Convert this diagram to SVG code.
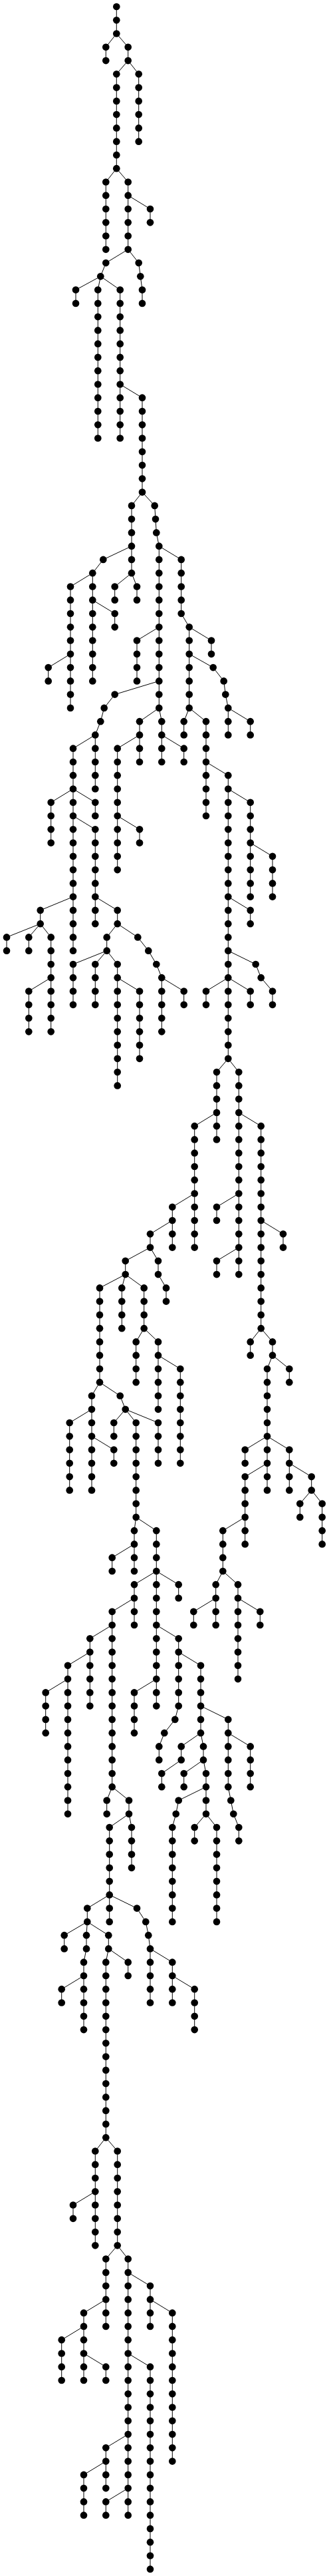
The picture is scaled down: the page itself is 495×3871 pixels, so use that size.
<svg xmlns="http://www.w3.org/2000/svg" width="495" height="3871" viewBox="0 0 495 3871">
<style>
circle{r:5.33px;fill:#000;stroke:none}
#connectors path{fill:none;stroke:#000;stroke-width:1}
</style>
<rect width="495" height="3871" fill="#fff"/>
<g id="connectors">
<path d="M175.3 10V50.5"/>
<path d="M175.3 50.5L159.3 70.8V91.1"/>
<path d="M175.3 50.5L192.7 70.8V91.1"/>
<path d="M192.7 91.1L175.3 111.3V253.2"/>
<path d="M192.7 91.1L208.7 111.3V212.7"/>
<path d="M175.3 253.2L159.3 273.5V374.8"/>
<path d="M175.3 253.2L192.7 273.5V374.8"/>
<path d="M192.7 293.7L226 314V334.3"/>
<path d="M192.7 374.8L159.3 395.1L151.3 415.3"/>
<path d="M192.7 374.8L208.7 395.1L211.3 415.3L214 435.6V455.9"/>
<path d="M151.3 415.3L114 435.6V455.9"/>
<path d="M151.3 415.3L147.3 435.6V658.5"/>
<path d="M151.3 415.3L180.7 435.6V658.5"/>
<path d="M180.7 577.5L214 597.7V739.6"/>
<path d="M214 739.6L198 759.9V861.2"/>
<path d="M198 820.7L155.3 840.9L139.3 861.2"/>
<path d="M198 861.2L172.7 881.5V901.7"/>
<path d="M198 861.2L206 881.5V901.7"/>
<path d="M139.3 861.2L106 881.5V1063.9"/>
<path d="M106 982.8L72.7 1003.1V1023.4"/>
<path d="M139.3 861.2V1023.4"/>
<path d="M139.3 901.7L172.7 922V942.3"/>
<path d="M214 739.6L232.7 759.9L234 780.1L235.3 800.4L239.3 820.7V1063.9"/>
<path d="M239.3 942.3L206 962.5V1023.4"/>
<path d="M239.3 1023.4L172.7 1043.6L156.7 1063.9L151.3 1084.2L143.3 1104.4"/>
<path d="M239.3 1063.9L210 1084.2V1145"/>
<path d="M210 1104.4L176.7 1124.7V1307.1"/>
<path d="M176.7 1226L210 1246.3V1266.6"/>
<path d="M239.3 1063.9L243.3 1084.2V1145"/>
<path d="M243.3 1104.4L276.7 1124.7V1145"/>
<path d="M143.3 1104.4V1185.5"/>
<path d="M143.3 1104.4L110 1124.7V1226"/>
<path d="M110 1185.5L76.7 1205.8V1266.6"/>
<path d="M110 1185.5L143.3 1205.8V1226"/>
<path d="M110 1226V1347.6"/>
<path d="M110 1226L143.3 1246.3V1388.2"/>
<path d="M143.3 1347.6L176.7 1367.9V1388.2"/>
<path d="M176.7 1388.2L160.7 1408.4V1428.7"/>
<path d="M176.7 1388.2L207.3 1408.4L223.3 1428.7L235.3 1449L243.3 1469.2V1550.3"/>
<path d="M243.3 1469.2L276.7 1489.5V1509.8"/>
<path d="M160.7 1428.7L110 1449V1509.8"/>
<path d="M160.7 1428.7L143.3 1449V1509.8"/>
<path d="M160.7 1428.7L176.7 1449V1631.4"/>
<path d="M176.7 1469.2L210 1489.5V1590.8"/>
<path d="M110 1347.6V1428.7"/>
<path d="M110 1347.6L60.7 1367.9V1388.2"/>
<path d="M60.7 1388.2L10 1408.4V1428.7"/>
<path d="M60.7 1388.2L43.3 1408.4V1428.7"/>
<path d="M60.7 1388.2L76.7 1408.4V1550.3"/>
<path d="M76.7 1469.2L43.3 1489.5V1550.3"/>
<path d="M239.3 820.7L272.7 840.9V922L284.7 942.3V1063.9"/>
<path d="M284.7 942.3L318 962.5V982.8"/>
<path d="M284.7 982.8L320.7 1003.1L336.7 1023.4L339.3 1043.6L343.3 1063.9V1104.4"/>
<path d="M343.3 1063.9L376.7 1084.2V1104.4"/>
<path d="M284.7 1063.9L276.7 1084.2V1104.4"/>
<path d="M284.7 1063.9L310 1084.2V1226"/>
<path d="M310 1145L343.3 1165.2V1590.8"/>
<path d="M343.3 1185.5L376.7 1205.8V1347.6"/>
<path d="M376.7 1266.6L410 1286.8V1347.6"/>
<path d="M343.3 1347.6L376.7 1367.9V1388.2"/>
<path d="M343.3 1428.7L384.7 1449L392.7 1469.2L410 1489.5V1509.8"/>
<path d="M343.3 1469.2L310 1489.5V1509.8"/>
<path d="M343.3 1469.2L376.7 1489.5V1509.8"/>
<path d="M343.3 1590.8L326 1611.1V1712.4"/>
<path d="M343.3 1590.8L359.3 1611.1V1915.1"/>
<path d="M326 1671.9L292.7 1692.2V1874.6"/>
<path d="M292.7 1793.5L259.3 1813.8V1874.6"/>
<path d="M259.3 1834L226 1854.3V1874.6"/>
<path d="M226 1874.6L238 1894.8V1915.1L250 1935.4V1955.6"/>
<path d="M226 1874.6L188.7 1894.8V1915.1"/>
<path d="M188.7 1915.1L150 1935.4V2077.2"/>
<path d="M188.7 1915.1L183.3 1935.4V1996.2"/>
<path d="M188.7 1915.1L216.7 1935.4V1996.2"/>
<path d="M216.7 1996.2L204.7 2016.4V2077.2"/>
<path d="M216.7 1996.2L238 2016.4V2117.8"/>
<path d="M238 2036.7L271.3 2057V2198.8"/>
<path d="M150 2077.2L138 2097.5V2239.4"/>
<path d="M138 2117.8L104.7 2138V2239.4"/>
<path d="M138 2158.3L171.3 2178.6V2198.8"/>
<path d="M150 2077.2L180.7 2097.5L188.7 2117.8"/>
<path d="M188.7 2117.8L171.3 2138V2158.3"/>
<path d="M188.7 2117.8L238 2138V2198.8"/>
<path d="M188.7 2117.8L204.7 2138V2279.9"/>
<path d="M204.7 2279.9L202 2300.2V2361"/>
<path d="M202 2320.4L168.7 2340.7V2361"/>
<path d="M204.7 2279.9L235.3 2300.2V2563.6"/>
<path d="M235.3 2361L202 2381.2V2442"/>
<path d="M235.3 2361L268.7 2381.2V2401.5"/>
<path d="M202 2401.5L168.7 2421.8V2685.2"/>
<path d="M168.7 2442L135.3 2462.3V2563.6"/>
<path d="M135.3 2482.6L102 2502.8V2725.8"/>
<path d="M102 2523.1L68.7 2543.4V2604.2"/>
<path d="M168.7 2685.2L160.7 2705.5V2725.8"/>
<path d="M168.7 2685.2L194 2705.5V2725.8"/>
<path d="M194 2725.8L164.7 2746V2887.9"/>
<path d="M194 2725.8L198 2746V2806.8"/>
<path d="M164.7 2847.4L131.3 2867.6V2887.9"/>
<path d="M131.3 2887.9L96.7 2908.2V2928.4"/>
<path d="M131.3 2887.9L130 2908.2V2928.4L126 2948.7V3050.1"/>
<path d="M126 2969L92.7 2989.2V3009.5"/>
<path d="M131.3 2887.9L163.3 2908.2V2928.4"/>
<path d="M163.3 2928.4L159.3 2948.7V3212.2"/>
<path d="M163.3 2928.4L192.7 2948.7V2969"/>
<path d="M164.7 2847.4L206 2867.6L219.3 2887.9L223.3 2908.2L226 2928.4V3009.5"/>
<path d="M226 2928.4L259.3 2948.7V3009.5"/>
<path d="M259.3 2969L292.7 2989.2V3050.1"/>
<path d="M235.3 2523.1L202 2543.4V2604.2"/>
<path d="M235.3 2442L268.7 2462.3V2563.6L263.3 2583.9L247.3 2604.2L239.3 2624.4V2644.7"/>
<path d="M268.7 2482.6L302 2502.8V2604.2"/>
<path d="M302 2563.6L343.3 2583.9V2685.2L347.3 2705.5L351.3 2725.8L359.3 2746V2766.3"/>
<path d="M343.3 2604.2L376.7 2624.4V2685.2"/>
<path d="M302 2604.2L272.7 2624.4V2644.7L243.3 2665V2685.2"/>
<path d="M302 2604.2L306 2624.4V2644.7"/>
<path d="M306 2644.7L276.7 2665V2685.2"/>
<path d="M306 2644.7L310 2665V2725.8"/>
<path d="M310 2685.2L268.7 2705.5L264.7 2725.8L259.3 2746V2887.9"/>
<path d="M310 2725.8L292.7 2746V2766.3"/>
<path d="M310 2725.8L326 2746V2887.9"/>
<path d="M359.3 1671.9L392.7 1692.2V1996.2"/>
<path d="M359.3 1793.5L326 1813.8V1834"/>
<path d="M359.3 1874.6L326 1894.8V1915.1"/>
<path d="M392.7 1834L426 1854.3V1874.6"/>
<path d="M392.7 1996.2L376.7 2016.4V2036.7"/>
<path d="M392.7 1996.2L410 2016.4V2036.7"/>
<path d="M410 2036.7L402 2057V2239.4"/>
<path d="M410 2036.7L435.3 2057V2077.2"/>
<path d="M402 2158.3L368.7 2178.6V2198.8"/>
<path d="M402 2158.3L435.3 2178.6V2239.4"/>
<path d="M402 2198.8L368.7 2219.1V2320.4"/>
<path d="M435.3 2198.8L468.7 2219.1V2239.4"/>
<path d="M468.7 2239.4L451.3 2259.6V2279.9"/>
<path d="M468.7 2239.4L484.7 2259.6V2320.4"/>
<path d="M368.7 2279.9L335.3 2300.2V2361"/>
<path d="M335.3 2361L324.7 2381.2V2442"/>
<path d="M324.7 2401.5L291.3 2421.8V2442"/>
<path d="M335.3 2361L358 2381.2V2523.1"/>
<path d="M358 2401.5L391.3 2421.8V2442"/>
<path d="M159.3 3212.2L143.3 3232.5V3374.3"/>
<path d="M143.3 3293.3L110 3313.5V3333.8"/>
<path d="M159.3 3212.2L176.7 3232.5V3374.3"/>
<path d="M176.7 3374.3L159.3 3394.6V3495.9"/>
<path d="M159.3 3455.4L126 3475.7V3577"/>
<path d="M126 3495.9L92.7 3516.2V3577"/>
<path d="M126 3536.5L159.3 3556.7V3577"/>
<path d="M176.7 3374.3L192.7 3394.6V3779.7"/>
<path d="M192.7 3414.9L226 3435.1V3495.9"/>
<path d="M226 3455.4L259.3 3475.7V3698.6"/>
<path d="M192.7 3536.5L226 3556.7V3860.7"/>
<path d="M192.7 3658.1L159.3 3678.3V3739.1"/>
<path d="M159.3 3698.6L126 3718.9V3779.7"/>
<path d="M192.7 3739.1L159.3 3759.4V3779.7"/>
</g>
<g id="nodes">
<g id="n526_0"><circle cx="175.3" cy="10"/></g><g id="n526_1"><circle cx="175.3" cy="30.3"/></g><g id="n526_2"><circle cx="175.3" cy="50.5"/></g>
<g id="n478_3"><circle cx="159.3" cy="70.8"/></g><g id="n478_4"><circle cx="159.3" cy="91.1"/></g>
<g id="n578_3"><circle cx="192.7" cy="70.8"/></g><g id="n578_4"><circle cx="192.7" cy="91.1"/></g>
<g id="n526_5"><circle cx="175.3" cy="111.3"/></g><g id="n526_6"><circle cx="175.3" cy="131.6"/></g><g id="n526_7"><circle cx="175.3" cy="151.9"/></g><g id="n526_8"><circle cx="175.3" cy="172.1"/></g><g id="n526_9"><circle cx="175.3" cy="192.4"/></g><g id="n526_10"><circle cx="175.3" cy="212.7"/></g><g id="n526_11"><circle cx="175.3" cy="232.9"/></g><g id="n526_12"><circle cx="175.3" cy="253.2"/></g>
<g id="n626_5"><circle cx="208.7" cy="111.3"/></g><g id="n626_6"><circle cx="208.7" cy="131.6"/></g><g id="n626_7"><circle cx="208.7" cy="151.9"/></g><g id="n626_8"><circle cx="208.7" cy="172.1"/></g><g id="n626_9"><circle cx="208.7" cy="192.4"/></g><g id="n626_10"><circle cx="208.7" cy="212.7"/></g>
<g id="n478_13"><circle cx="159.3" cy="273.5"/></g><g id="n478_14"><circle cx="159.3" cy="293.7"/></g><g id="n478_15"><circle cx="159.3" cy="314"/></g><g id="n478_16"><circle cx="159.3" cy="334.3"/></g><g id="n478_17"><circle cx="159.3" cy="354.5"/></g><g id="n478_18"><circle cx="159.3" cy="374.8"/></g>
<g id="n578_13"><circle cx="192.7" cy="273.5"/></g><g id="n578_14"><circle cx="192.7" cy="293.7"/></g><g id="n578_15"><circle cx="192.7" cy="314"/></g><g id="n578_16"><circle cx="192.7" cy="334.3"/></g><g id="n578_17"><circle cx="192.7" cy="354.5"/></g><g id="n578_18"><circle cx="192.7" cy="374.8"/></g>
<g id="n678_15"><circle cx="226" cy="314"/></g><g id="n678_16"><circle cx="226" cy="334.3"/></g>
<g id="n478_19"><circle cx="159.3" cy="395.1"/></g><g id="n454_20"><circle cx="151.3" cy="415.3"/></g>
<g id="n626_19"><circle cx="208.7" cy="395.1"/></g><g id="n634_20"><circle cx="211.3" cy="415.3"/></g><g id="n642_21"><circle cx="214" cy="435.6"/></g><g id="n642_22"><circle cx="214" cy="455.9"/></g>
<g id="n342_21"><circle cx="114" cy="435.6"/></g><g id="n342_22"><circle cx="114" cy="455.9"/></g>
<g id="n442_21"><circle cx="147.3" cy="435.6"/></g><g id="n442_22"><circle cx="147.3" cy="455.9"/></g><g id="n442_23"><circle cx="147.3" cy="476.1"/></g><g id="n442_24"><circle cx="147.3" cy="496.4"/></g><g id="n442_25"><circle cx="147.3" cy="516.7"/></g><g id="n442_26"><circle cx="147.3" cy="536.9"/></g><g id="n442_27"><circle cx="147.3" cy="557.2"/></g><g id="n442_28"><circle cx="147.3" cy="577.5"/></g><g id="n442_29"><circle cx="147.3" cy="597.7"/></g><g id="n442_30"><circle cx="147.3" cy="618"/></g><g id="n442_31"><circle cx="147.3" cy="638.3"/></g><g id="n442_32"><circle cx="147.3" cy="658.5"/></g>
<g id="n542_21"><circle cx="180.7" cy="435.6"/></g><g id="n542_22"><circle cx="180.7" cy="455.9"/></g><g id="n542_23"><circle cx="180.7" cy="476.1"/></g><g id="n542_24"><circle cx="180.7" cy="496.4"/></g><g id="n542_25"><circle cx="180.7" cy="516.7"/></g><g id="n542_26"><circle cx="180.7" cy="536.9"/></g><g id="n542_27"><circle cx="180.7" cy="557.2"/></g><g id="n542_28"><circle cx="180.7" cy="577.5"/></g><g id="n542_29"><circle cx="180.7" cy="597.7"/></g><g id="n542_30"><circle cx="180.7" cy="618"/></g><g id="n542_31"><circle cx="180.7" cy="638.3"/></g><g id="n542_32"><circle cx="180.7" cy="658.5"/></g>
<g id="n642_29"><circle cx="214" cy="597.7"/></g><g id="n642_30"><circle cx="214" cy="618"/></g><g id="n642_31"><circle cx="214" cy="638.3"/></g><g id="n642_32"><circle cx="214" cy="658.5"/></g><g id="n642_33"><circle cx="214" cy="678.8"/></g><g id="n642_34"><circle cx="214" cy="699.1"/></g><g id="n642_35"><circle cx="214" cy="719.3"/></g><g id="n642_36"><circle cx="214" cy="739.6"/></g>
<g id="n594_37"><circle cx="198" cy="759.9"/></g><g id="n594_38"><circle cx="198" cy="780.1"/></g><g id="n594_39"><circle cx="198" cy="800.4"/></g><g id="n594_40"><circle cx="198" cy="820.7"/></g><g id="n594_41"><circle cx="198" cy="840.9"/></g><g id="n594_42"><circle cx="198" cy="861.2"/></g>
<g id="n518_43"><circle cx="172.7" cy="881.5"/></g><g id="n518_44"><circle cx="172.7" cy="901.7"/></g><g id="n618_43"><circle cx="206" cy="881.5"/></g><g id="n618_44"><circle cx="206" cy="901.7"/></g>
<g id="n466_41"><circle cx="155.3" cy="840.9"/></g><g id="n418_42"><circle cx="139.3" cy="861.2"/></g>
<g id="n318_43"><circle cx="106" cy="881.5"/></g><g id="n318_44"><circle cx="106" cy="901.7"/></g><g id="n318_45"><circle cx="106" cy="922"/></g><g id="n318_46"><circle cx="106" cy="942.3"/></g><g id="n318_47"><circle cx="106" cy="962.5"/></g><g id="n318_48"><circle cx="106" cy="982.8"/></g><g id="n318_49"><circle cx="106" cy="1003.1"/></g><g id="n318_50"><circle cx="106" cy="1023.4"/></g><g id="n318_51"><circle cx="106" cy="1043.6"/></g><g id="n318_52"><circle cx="106" cy="1063.9"/></g>
<g id="n218_49"><circle cx="72.7" cy="1003.1"/></g><g id="n218_50"><circle cx="72.7" cy="1023.4"/></g>
<g id="n418_43"><circle cx="139.3" cy="881.5"/></g><g id="n418_44"><circle cx="139.3" cy="901.7"/></g><g id="n418_45"><circle cx="139.3" cy="922"/></g><g id="n418_46"><circle cx="139.3" cy="942.3"/></g><g id="n418_47"><circle cx="139.3" cy="962.5"/></g><g id="n418_48"><circle cx="139.3" cy="982.8"/></g><g id="n418_49"><circle cx="139.3" cy="1003.1"/></g><g id="n418_50"><circle cx="139.3" cy="1023.4"/></g>
<g id="n518_45"><circle cx="172.7" cy="922"/></g><g id="n518_46"><circle cx="172.7" cy="942.3"/></g>
<g id="n698_37"><circle cx="232.7" cy="759.9"/></g><g id="n702_38"><circle cx="234" cy="780.1"/></g><g id="n706_39"><circle cx="235.3" cy="800.4"/></g>
<g id="n718_40"><circle cx="239.3" cy="820.7"/></g><g id="n718_41"><circle cx="239.3" cy="840.9"/></g><g id="n718_42"><circle cx="239.3" cy="861.2"/></g><g id="n718_43"><circle cx="239.3" cy="881.5"/></g><g id="n718_44"><circle cx="239.3" cy="901.7"/></g><g id="n718_45"><circle cx="239.3" cy="922"/></g><g id="n718_46"><circle cx="239.3" cy="942.3"/></g><g id="n718_47"><circle cx="239.3" cy="962.5"/></g><g id="n718_48"><circle cx="239.3" cy="982.8"/></g><g id="n718_49"><circle cx="239.3" cy="1003.1"/></g><g id="n718_50"><circle cx="239.3" cy="1023.4"/></g><g id="n718_51"><circle cx="239.3" cy="1043.6"/></g><g id="n718_52"><circle cx="239.3" cy="1063.9"/></g>
<g id="n618_47"><circle cx="206" cy="962.5"/></g><g id="n618_48"><circle cx="206" cy="982.8"/></g><g id="n618_49"><circle cx="206" cy="1003.1"/></g><g id="n618_50"><circle cx="206" cy="1023.4"/></g>
<g id="n518_51"><circle cx="172.7" cy="1043.6"/></g><g id="n470_52"><circle cx="156.7" cy="1063.9"/></g><g id="n454_53"><circle cx="151.3" cy="1084.2"/></g><g id="n430_54"><circle cx="143.3" cy="1104.4"/></g>
<g id="n630_53"><circle cx="210" cy="1084.2"/></g><g id="n630_54"><circle cx="210" cy="1104.4"/></g><g id="n630_55"><circle cx="210" cy="1124.7"/></g><g id="n630_56"><circle cx="210" cy="1145"/></g>
<g id="n530_55"><circle cx="176.7" cy="1124.7"/></g><g id="n530_56"><circle cx="176.7" cy="1145"/></g><g id="n530_57"><circle cx="176.7" cy="1165.2"/></g><g id="n530_58"><circle cx="176.7" cy="1185.5"/></g><g id="n530_59"><circle cx="176.7" cy="1205.8"/></g><g id="n530_60"><circle cx="176.7" cy="1226"/></g><g id="n530_61"><circle cx="176.7" cy="1246.3"/></g><g id="n530_62"><circle cx="176.7" cy="1266.6"/></g><g id="n530_63"><circle cx="176.7" cy="1286.8"/></g><g id="n530_64"><circle cx="176.7" cy="1307.1"/></g>
<g id="n630_61"><circle cx="210" cy="1246.3"/></g><g id="n630_62"><circle cx="210" cy="1266.6"/></g>
<g id="n730_53"><circle cx="243.3" cy="1084.2"/></g><g id="n730_54"><circle cx="243.3" cy="1104.4"/></g><g id="n730_55"><circle cx="243.3" cy="1124.7"/></g><g id="n730_56"><circle cx="243.3" cy="1145"/></g>
<g id="n830_55"><circle cx="276.7" cy="1124.7"/></g><g id="n830_56"><circle cx="276.7" cy="1145"/></g>
<g id="n430_55"><circle cx="143.3" cy="1124.7"/></g><g id="n430_56"><circle cx="143.3" cy="1145"/></g><g id="n430_57"><circle cx="143.3" cy="1165.2"/></g><g id="n430_58"><circle cx="143.3" cy="1185.5"/></g>
<g id="n330_55"><circle cx="110" cy="1124.7"/></g><g id="n330_56"><circle cx="110" cy="1145"/></g><g id="n330_57"><circle cx="110" cy="1165.2"/></g><g id="n330_58"><circle cx="110" cy="1185.5"/></g><g id="n330_59"><circle cx="110" cy="1205.8"/></g><g id="n330_60"><circle cx="110" cy="1226"/></g>
<g id="n230_59"><circle cx="76.7" cy="1205.8"/></g><g id="n230_60"><circle cx="76.7" cy="1226"/></g><g id="n230_61"><circle cx="76.7" cy="1246.3"/></g><g id="n230_62"><circle cx="76.7" cy="1266.6"/></g>
<g id="n430_59"><circle cx="143.3" cy="1205.8"/></g><g id="n430_60"><circle cx="143.3" cy="1226"/></g>
<g id="n330_61"><circle cx="110" cy="1246.3"/></g><g id="n330_62"><circle cx="110" cy="1266.6"/></g><g id="n330_63"><circle cx="110" cy="1286.8"/></g><g id="n330_64"><circle cx="110" cy="1307.1"/></g><g id="n330_65"><circle cx="110" cy="1327.4"/></g><g id="n330_66"><circle cx="110" cy="1347.6"/></g><g id="n330_67"><circle cx="110" cy="1367.9"/></g><g id="n330_68"><circle cx="110" cy="1388.2"/></g><g id="n330_69"><circle cx="110" cy="1408.4"/></g><g id="n330_70"><circle cx="110" cy="1428.7"/></g>
<g id="n430_61"><circle cx="143.3" cy="1246.3"/></g><g id="n430_62"><circle cx="143.3" cy="1266.6"/></g><g id="n430_63"><circle cx="143.3" cy="1286.8"/></g><g id="n430_64"><circle cx="143.3" cy="1307.1"/></g><g id="n430_65"><circle cx="143.3" cy="1327.4"/></g><g id="n430_66"><circle cx="143.3" cy="1347.6"/></g><g id="n430_67"><circle cx="143.3" cy="1367.9"/></g><g id="n430_68"><circle cx="143.3" cy="1388.2"/></g>
<g id="n530_67"><circle cx="176.7" cy="1367.9"/></g><g id="n530_68"><circle cx="176.7" cy="1388.2"/></g>
<g id="n482_69"><circle cx="160.7" cy="1408.4"/></g><g id="n482_70"><circle cx="160.7" cy="1428.7"/></g>
<g id="n622_69"><circle cx="207.3" cy="1408.4"/></g><g id="n670_70"><circle cx="223.3" cy="1428.7"/></g><g id="n706_71"><circle cx="235.3" cy="1449"/></g>
<g id="n730_72"><circle cx="243.3" cy="1469.2"/></g><g id="n730_73"><circle cx="243.3" cy="1489.5"/></g><g id="n730_74"><circle cx="243.3" cy="1509.8"/></g><g id="n730_75"><circle cx="243.3" cy="1530"/></g><g id="n730_76"><circle cx="243.3" cy="1550.3"/></g>
<g id="n830_73"><circle cx="276.7" cy="1489.5"/></g><g id="n830_74"><circle cx="276.7" cy="1509.8"/></g>
<g id="n330_71"><circle cx="110" cy="1449"/></g><g id="n330_72"><circle cx="110" cy="1469.2"/></g><g id="n330_73"><circle cx="110" cy="1489.5"/></g><g id="n330_74"><circle cx="110" cy="1509.8"/></g>
<g id="n430_71"><circle cx="143.3" cy="1449"/></g><g id="n430_72"><circle cx="143.3" cy="1469.2"/></g><g id="n430_73"><circle cx="143.3" cy="1489.5"/></g><g id="n430_74"><circle cx="143.3" cy="1509.8"/></g>
<g id="n530_71"><circle cx="176.7" cy="1449"/></g><g id="n530_72"><circle cx="176.7" cy="1469.2"/></g><g id="n530_73"><circle cx="176.7" cy="1489.5"/></g><g id="n530_74"><circle cx="176.7" cy="1509.8"/></g><g id="n530_75"><circle cx="176.7" cy="1530"/></g><g id="n530_76"><circle cx="176.7" cy="1550.3"/></g><g id="n530_77"><circle cx="176.7" cy="1570.6"/></g><g id="n530_78"><circle cx="176.7" cy="1590.8"/></g><g id="n530_79"><circle cx="176.7" cy="1611.1"/></g><g id="n530_80"><circle cx="176.7" cy="1631.4"/></g>
<g id="n630_73"><circle cx="210" cy="1489.5"/></g><g id="n630_74"><circle cx="210" cy="1509.8"/></g><g id="n630_75"><circle cx="210" cy="1530"/></g><g id="n630_76"><circle cx="210" cy="1550.3"/></g><g id="n630_77"><circle cx="210" cy="1570.6"/></g><g id="n630_78"><circle cx="210" cy="1590.8"/></g>
<g id="n182_67"><circle cx="60.7" cy="1367.9"/></g><g id="n182_68"><circle cx="60.7" cy="1388.2"/></g>
<g id="n30_69"><circle cx="10" cy="1408.4"/></g><g id="n30_70"><circle cx="10" cy="1428.7"/></g><g id="n130_69"><circle cx="43.3" cy="1408.4"/></g><g id="n130_70"><circle cx="43.3" cy="1428.7"/></g>
<g id="n230_69"><circle cx="76.7" cy="1408.4"/></g><g id="n230_70"><circle cx="76.7" cy="1428.7"/></g><g id="n230_71"><circle cx="76.7" cy="1449"/></g><g id="n230_72"><circle cx="76.7" cy="1469.2"/></g><g id="n230_73"><circle cx="76.7" cy="1489.5"/></g><g id="n230_74"><circle cx="76.7" cy="1509.8"/></g><g id="n230_75"><circle cx="76.7" cy="1530"/></g><g id="n230_76"><circle cx="76.7" cy="1550.3"/></g>
<g id="n130_73"><circle cx="43.3" cy="1489.5"/></g><g id="n130_74"><circle cx="43.3" cy="1509.8"/></g><g id="n130_75"><circle cx="43.3" cy="1530"/></g><g id="n130_76"><circle cx="43.3" cy="1550.3"/></g>
<g id="n818_41"><circle cx="272.7" cy="840.9"/></g><g id="n818_42"><circle cx="272.7" cy="861.2"/></g><g id="n818_43"><circle cx="272.7" cy="881.5"/></g><g id="n818_44"><circle cx="272.7" cy="901.7"/></g><g id="n818_45"><circle cx="272.7" cy="922"/></g>
<g id="n854_46"><circle cx="284.7" cy="942.3"/></g><g id="n854_47"><circle cx="284.7" cy="962.5"/></g><g id="n854_48"><circle cx="284.7" cy="982.8"/></g><g id="n854_49"><circle cx="284.7" cy="1003.1"/></g><g id="n854_50"><circle cx="284.7" cy="1023.4"/></g><g id="n854_51"><circle cx="284.7" cy="1043.6"/></g><g id="n854_52"><circle cx="284.7" cy="1063.9"/></g>
<g id="n954_47"><circle cx="318" cy="962.5"/></g><g id="n954_48"><circle cx="318" cy="982.8"/></g>
<g id="n962_49"><circle cx="320.7" cy="1003.1"/></g><g id="n1010_50"><circle cx="336.7" cy="1023.4"/></g><g id="n1018_51"><circle cx="339.3" cy="1043.6"/></g><g id="n1030_52"><circle cx="343.3" cy="1063.9"/></g><g id="n1030_53"><circle cx="343.3" cy="1084.2"/></g><g id="n1030_54"><circle cx="343.3" cy="1104.4"/></g>
<g id="n1130_53"><circle cx="376.7" cy="1084.2"/></g><g id="n1130_54"><circle cx="376.7" cy="1104.4"/></g>
<g id="n830_53"><circle cx="276.7" cy="1084.2"/></g><g id="n830_54"><circle cx="276.7" cy="1104.4"/></g>
<g id="n930_53"><circle cx="310" cy="1084.2"/></g><g id="n930_54"><circle cx="310" cy="1104.4"/></g><g id="n930_55"><circle cx="310" cy="1124.7"/></g><g id="n930_56"><circle cx="310" cy="1145"/></g><g id="n930_57"><circle cx="310" cy="1165.2"/></g><g id="n930_58"><circle cx="310" cy="1185.5"/></g><g id="n930_59"><circle cx="310" cy="1205.8"/></g><g id="n930_60"><circle cx="310" cy="1226"/></g>
<g id="n1030_57"><circle cx="343.3" cy="1165.2"/></g><g id="n1030_58"><circle cx="343.3" cy="1185.5"/></g><g id="n1030_59"><circle cx="343.3" cy="1205.8"/></g><g id="n1030_60"><circle cx="343.3" cy="1226"/></g><g id="n1030_61"><circle cx="343.3" cy="1246.3"/></g><g id="n1030_62"><circle cx="343.3" cy="1266.6"/></g><g id="n1030_63"><circle cx="343.3" cy="1286.8"/></g><g id="n1030_64"><circle cx="343.3" cy="1307.1"/></g><g id="n1030_65"><circle cx="343.3" cy="1327.4"/></g><g id="n1030_66"><circle cx="343.3" cy="1347.6"/></g><g id="n1030_67"><circle cx="343.3" cy="1367.9"/></g><g id="n1030_68"><circle cx="343.3" cy="1388.2"/></g><g id="n1030_69"><circle cx="343.3" cy="1408.4"/></g><g id="n1030_70"><circle cx="343.3" cy="1428.7"/></g><g id="n1030_71"><circle cx="343.3" cy="1449"/></g><g id="n1030_72"><circle cx="343.3" cy="1469.2"/></g><g id="n1030_73"><circle cx="343.3" cy="1489.5"/></g><g id="n1030_74"><circle cx="343.3" cy="1509.8"/></g><g id="n1030_75"><circle cx="343.3" cy="1530"/></g><g id="n1030_76"><circle cx="343.3" cy="1550.3"/></g><g id="n1030_77"><circle cx="343.3" cy="1570.6"/></g><g id="n1030_78"><circle cx="343.3" cy="1590.8"/></g>
<g id="n1130_59"><circle cx="376.7" cy="1205.8"/></g><g id="n1130_60"><circle cx="376.7" cy="1226"/></g><g id="n1130_61"><circle cx="376.7" cy="1246.3"/></g><g id="n1130_62"><circle cx="376.7" cy="1266.6"/></g><g id="n1130_63"><circle cx="376.7" cy="1286.8"/></g><g id="n1130_64"><circle cx="376.7" cy="1307.1"/></g><g id="n1130_65"><circle cx="376.7" cy="1327.4"/></g><g id="n1130_66"><circle cx="376.7" cy="1347.6"/></g>
<g id="n1230_63"><circle cx="410" cy="1286.8"/></g><g id="n1230_64"><circle cx="410" cy="1307.1"/></g><g id="n1230_65"><circle cx="410" cy="1327.4"/></g><g id="n1230_66"><circle cx="410" cy="1347.6"/></g>
<g id="n1130_67"><circle cx="376.7" cy="1367.9"/></g><g id="n1130_68"><circle cx="376.7" cy="1388.2"/></g>
<g id="n1154_71"><circle cx="384.7" cy="1449"/></g><g id="n1178_72"><circle cx="392.7" cy="1469.2"/></g><g id="n1230_73"><circle cx="410" cy="1489.5"/></g><g id="n1230_74"><circle cx="410" cy="1509.8"/></g>
<g id="n930_73"><circle cx="310" cy="1489.5"/></g><g id="n930_74"><circle cx="310" cy="1509.8"/></g><g id="n1130_73"><circle cx="376.7" cy="1489.5"/></g><g id="n1130_74"><circle cx="376.7" cy="1509.8"/></g>
<g id="n978_79"><circle cx="326" cy="1611.1"/></g><g id="n978_80"><circle cx="326" cy="1631.4"/></g><g id="n978_81"><circle cx="326" cy="1651.6"/></g><g id="n978_82"><circle cx="326" cy="1671.9"/></g><g id="n978_83"><circle cx="326" cy="1692.2"/></g><g id="n978_84"><circle cx="326" cy="1712.4"/></g>
<g id="n878_83"><circle cx="292.7" cy="1692.2"/></g><g id="n878_84"><circle cx="292.7" cy="1712.4"/></g><g id="n878_85"><circle cx="292.7" cy="1732.7"/></g><g id="n878_86"><circle cx="292.7" cy="1753"/></g><g id="n878_87"><circle cx="292.7" cy="1773.2"/></g><g id="n878_88"><circle cx="292.7" cy="1793.5"/></g><g id="n878_89"><circle cx="292.7" cy="1813.8"/></g><g id="n878_90"><circle cx="292.7" cy="1834"/></g><g id="n878_91"><circle cx="292.7" cy="1854.3"/></g><g id="n878_92"><circle cx="292.7" cy="1874.6"/></g>
<g id="n778_89"><circle cx="259.3" cy="1813.8"/></g><g id="n778_90"><circle cx="259.3" cy="1834"/></g><g id="n778_91"><circle cx="259.3" cy="1854.3"/></g><g id="n778_92"><circle cx="259.3" cy="1874.6"/></g>
<g id="n678_91"><circle cx="226" cy="1854.3"/></g><g id="n678_92"><circle cx="226" cy="1874.6"/></g>
<g id="n714_93"><circle cx="238" cy="1894.8"/></g><g id="n714_94"><circle cx="238" cy="1915.1"/></g><g id="n750_95"><circle cx="250" cy="1935.4"/></g><g id="n750_96"><circle cx="250" cy="1955.6"/></g>
<g id="n566_93"><circle cx="188.7" cy="1894.8"/></g><g id="n566_94"><circle cx="188.7" cy="1915.1"/></g>
<g id="n450_95"><circle cx="150" cy="1935.4"/></g><g id="n450_96"><circle cx="150" cy="1955.6"/></g><g id="n450_97"><circle cx="150" cy="1975.9"/></g><g id="n450_98"><circle cx="150" cy="1996.2"/></g><g id="n450_99"><circle cx="150" cy="2016.4"/></g><g id="n450_100"><circle cx="150" cy="2036.7"/></g><g id="n450_101"><circle cx="150" cy="2057"/></g><g id="n450_102"><circle cx="150" cy="2077.2"/></g>
<g id="n550_95"><circle cx="183.3" cy="1935.4"/></g><g id="n550_96"><circle cx="183.3" cy="1955.6"/></g><g id="n550_97"><circle cx="183.3" cy="1975.9"/></g><g id="n550_98"><circle cx="183.3" cy="1996.2"/></g>
<g id="n650_95"><circle cx="216.7" cy="1935.4"/></g><g id="n650_96"><circle cx="216.7" cy="1955.6"/></g><g id="n650_97"><circle cx="216.7" cy="1975.9"/></g><g id="n650_98"><circle cx="216.7" cy="1996.2"/></g>
<g id="n614_99"><circle cx="204.7" cy="2016.4"/></g><g id="n614_100"><circle cx="204.7" cy="2036.7"/></g><g id="n614_101"><circle cx="204.7" cy="2057"/></g><g id="n614_102"><circle cx="204.7" cy="2077.2"/></g>
<g id="n714_99"><circle cx="238" cy="2016.4"/></g><g id="n714_100"><circle cx="238" cy="2036.7"/></g><g id="n714_101"><circle cx="238" cy="2057"/></g><g id="n714_102"><circle cx="238" cy="2077.2"/></g><g id="n714_103"><circle cx="238" cy="2097.5"/></g><g id="n714_104"><circle cx="238" cy="2117.8"/></g>
<g id="n814_101"><circle cx="271.3" cy="2057"/></g><g id="n814_102"><circle cx="271.3" cy="2077.2"/></g><g id="n814_103"><circle cx="271.3" cy="2097.5"/></g><g id="n814_104"><circle cx="271.3" cy="2117.8"/></g><g id="n814_105"><circle cx="271.3" cy="2138"/></g><g id="n814_106"><circle cx="271.3" cy="2158.3"/></g><g id="n814_107"><circle cx="271.3" cy="2178.6"/></g><g id="n814_108"><circle cx="271.3" cy="2198.8"/></g>
<g id="n414_103"><circle cx="138" cy="2097.5"/></g><g id="n414_104"><circle cx="138" cy="2117.8"/></g><g id="n414_105"><circle cx="138" cy="2138"/></g><g id="n414_106"><circle cx="138" cy="2158.3"/></g><g id="n414_107"><circle cx="138" cy="2178.6"/></g><g id="n414_108"><circle cx="138" cy="2198.8"/></g><g id="n414_109"><circle cx="138" cy="2219.1"/></g><g id="n414_110"><circle cx="138" cy="2239.4"/></g>
<g id="n314_105"><circle cx="104.7" cy="2138"/></g><g id="n314_106"><circle cx="104.7" cy="2158.3"/></g><g id="n314_107"><circle cx="104.7" cy="2178.6"/></g><g id="n314_108"><circle cx="104.7" cy="2198.8"/></g><g id="n314_109"><circle cx="104.7" cy="2219.1"/></g><g id="n314_110"><circle cx="104.7" cy="2239.4"/></g>
<g id="n514_107"><circle cx="171.3" cy="2178.6"/></g><g id="n514_108"><circle cx="171.3" cy="2198.8"/></g>
<g id="n542_103"><circle cx="180.7" cy="2097.5"/></g><g id="n566_104"><circle cx="188.7" cy="2117.8"/></g>
<g id="n514_105"><circle cx="171.3" cy="2138"/></g><g id="n514_106"><circle cx="171.3" cy="2158.3"/></g>
<g id="n714_105"><circle cx="238" cy="2138"/></g><g id="n714_106"><circle cx="238" cy="2158.3"/></g><g id="n714_107"><circle cx="238" cy="2178.6"/></g><g id="n714_108"><circle cx="238" cy="2198.8"/></g>
<g id="n614_105"><circle cx="204.7" cy="2138"/></g><g id="n614_106"><circle cx="204.7" cy="2158.3"/></g><g id="n614_107"><circle cx="204.7" cy="2178.6"/></g><g id="n614_108"><circle cx="204.7" cy="2198.8"/></g><g id="n614_109"><circle cx="204.7" cy="2219.1"/></g><g id="n614_110"><circle cx="204.7" cy="2239.4"/></g><g id="n614_111"><circle cx="204.7" cy="2259.6"/></g><g id="n614_112"><circle cx="204.7" cy="2279.9"/></g>
<g id="n606_113"><circle cx="202" cy="2300.2"/></g><g id="n606_114"><circle cx="202" cy="2320.4"/></g><g id="n606_115"><circle cx="202" cy="2340.7"/></g><g id="n606_116"><circle cx="202" cy="2361"/></g>
<g id="n506_115"><circle cx="168.7" cy="2340.7"/></g><g id="n506_116"><circle cx="168.7" cy="2361"/></g>
<g id="n706_113"><circle cx="235.3" cy="2300.2"/></g><g id="n706_114"><circle cx="235.3" cy="2320.4"/></g><g id="n706_115"><circle cx="235.3" cy="2340.7"/></g><g id="n706_116"><circle cx="235.3" cy="2361"/></g><g id="n706_117"><circle cx="235.3" cy="2381.2"/></g><g id="n706_118"><circle cx="235.3" cy="2401.5"/></g><g id="n706_119"><circle cx="235.3" cy="2421.8"/></g><g id="n706_120"><circle cx="235.3" cy="2442"/></g><g id="n706_121"><circle cx="235.3" cy="2462.3"/></g><g id="n706_122"><circle cx="235.3" cy="2482.6"/></g><g id="n706_123"><circle cx="235.3" cy="2502.8"/></g><g id="n706_124"><circle cx="235.3" cy="2523.1"/></g><g id="n706_125"><circle cx="235.3" cy="2543.4"/></g><g id="n706_126"><circle cx="235.3" cy="2563.6"/></g>
<g id="n606_117"><circle cx="202" cy="2381.2"/></g><g id="n606_118"><circle cx="202" cy="2401.5"/></g><g id="n606_119"><circle cx="202" cy="2421.8"/></g><g id="n606_120"><circle cx="202" cy="2442"/></g>
<g id="n806_117"><circle cx="268.7" cy="2381.2"/></g><g id="n806_118"><circle cx="268.7" cy="2401.5"/></g>
<g id="n506_119"><circle cx="168.7" cy="2421.8"/></g><g id="n506_120"><circle cx="168.7" cy="2442"/></g><g id="n506_121"><circle cx="168.7" cy="2462.3"/></g><g id="n506_122"><circle cx="168.7" cy="2482.6"/></g><g id="n506_123"><circle cx="168.7" cy="2502.8"/></g><g id="n506_124"><circle cx="168.7" cy="2523.1"/></g><g id="n506_125"><circle cx="168.7" cy="2543.4"/></g><g id="n506_126"><circle cx="168.7" cy="2563.6"/></g><g id="n506_127"><circle cx="168.7" cy="2583.9"/></g><g id="n506_128"><circle cx="168.7" cy="2604.2"/></g><g id="n506_129"><circle cx="168.7" cy="2624.4"/></g><g id="n506_130"><circle cx="168.7" cy="2644.7"/></g><g id="n506_131"><circle cx="168.7" cy="2665"/></g><g id="n506_132"><circle cx="168.7" cy="2685.2"/></g>
<g id="n406_121"><circle cx="135.3" cy="2462.3"/></g><g id="n406_122"><circle cx="135.3" cy="2482.6"/></g><g id="n406_123"><circle cx="135.3" cy="2502.8"/></g><g id="n406_124"><circle cx="135.3" cy="2523.1"/></g><g id="n406_125"><circle cx="135.3" cy="2543.4"/></g><g id="n406_126"><circle cx="135.3" cy="2563.6"/></g>
<g id="n306_123"><circle cx="102" cy="2502.8"/></g><g id="n306_124"><circle cx="102" cy="2523.1"/></g><g id="n306_125"><circle cx="102" cy="2543.4"/></g><g id="n306_126"><circle cx="102" cy="2563.6"/></g><g id="n306_127"><circle cx="102" cy="2583.9"/></g><g id="n306_128"><circle cx="102" cy="2604.2"/></g><g id="n306_129"><circle cx="102" cy="2624.4"/></g><g id="n306_130"><circle cx="102" cy="2644.7"/></g><g id="n306_131"><circle cx="102" cy="2665"/></g><g id="n306_132"><circle cx="102" cy="2685.2"/></g><g id="n306_133"><circle cx="102" cy="2705.5"/></g><g id="n306_134"><circle cx="102" cy="2725.8"/></g>
<g id="n206_125"><circle cx="68.7" cy="2543.4"/></g><g id="n206_126"><circle cx="68.7" cy="2563.6"/></g><g id="n206_127"><circle cx="68.7" cy="2583.9"/></g><g id="n206_128"><circle cx="68.7" cy="2604.2"/></g>
<g id="n482_133"><circle cx="160.7" cy="2705.5"/></g><g id="n482_134"><circle cx="160.7" cy="2725.8"/></g>
<g id="n582_133"><circle cx="194" cy="2705.5"/></g><g id="n582_134"><circle cx="194" cy="2725.8"/></g>
<g id="n594_135"><circle cx="198" cy="2746"/></g><g id="n594_136"><circle cx="198" cy="2766.3"/></g><g id="n594_137"><circle cx="198" cy="2786.6"/></g><g id="n594_138"><circle cx="198" cy="2806.8"/></g>
<g id="n494_135"><circle cx="164.7" cy="2746"/></g><g id="n494_136"><circle cx="164.7" cy="2766.3"/></g><g id="n494_137"><circle cx="164.7" cy="2786.6"/></g><g id="n494_138"><circle cx="164.7" cy="2806.8"/></g><g id="n494_139"><circle cx="164.7" cy="2827.1"/></g><g id="n494_140"><circle cx="164.7" cy="2847.4"/></g><g id="n494_141"><circle cx="164.7" cy="2867.6"/></g><g id="n494_142"><circle cx="164.7" cy="2887.9"/></g>
<g id="n394_141"><circle cx="131.3" cy="2867.6"/></g><g id="n394_142"><circle cx="131.3" cy="2887.9"/></g>
<g id="n290_143"><circle cx="96.7" cy="2908.2"/></g><g id="n290_144"><circle cx="96.7" cy="2928.4"/></g>
<g id="n390_143"><circle cx="130" cy="2908.2"/></g><g id="n390_144"><circle cx="130" cy="2928.4"/></g>
<g id="n378_145"><circle cx="126" cy="2948.7"/></g><g id="n378_146"><circle cx="126" cy="2969"/></g><g id="n378_147"><circle cx="126" cy="2989.2"/></g><g id="n378_148"><circle cx="126" cy="3009.5"/></g><g id="n378_149"><circle cx="126" cy="3029.8"/></g><g id="n378_150"><circle cx="126" cy="3050.1"/></g>
<g id="n278_147"><circle cx="92.7" cy="2989.2"/></g><g id="n278_148"><circle cx="92.7" cy="3009.5"/></g>
<g id="n490_143"><circle cx="163.3" cy="2908.2"/></g><g id="n490_144"><circle cx="163.3" cy="2928.4"/></g>
<g id="n578_145"><circle cx="192.7" cy="2948.7"/></g><g id="n578_146"><circle cx="192.7" cy="2969"/></g>
<g id="n478_145"><circle cx="159.3" cy="2948.7"/></g><g id="n478_146"><circle cx="159.3" cy="2969"/></g><g id="n478_147"><circle cx="159.3" cy="2989.2"/></g><g id="n478_148"><circle cx="159.3" cy="3009.5"/></g><g id="n478_149"><circle cx="159.3" cy="3029.8"/></g><g id="n478_150"><circle cx="159.3" cy="3050.1"/></g><g id="n478_151"><circle cx="159.3" cy="3070.3"/></g><g id="n478_152"><circle cx="159.3" cy="3090.6"/></g><g id="n478_153"><circle cx="159.3" cy="3110.9"/></g><g id="n478_154"><circle cx="159.3" cy="3131.1"/></g><g id="n478_155"><circle cx="159.3" cy="3151.4"/></g><g id="n478_156"><circle cx="159.3" cy="3171.7"/></g><g id="n478_157"><circle cx="159.3" cy="3191.9"/></g><g id="n478_158"><circle cx="159.3" cy="3212.2"/></g>
<g id="n618_141"><circle cx="206" cy="2867.6"/></g><g id="n658_142"><circle cx="219.3" cy="2887.9"/></g><g id="n670_143"><circle cx="223.3" cy="2908.2"/></g><g id="n678_144"><circle cx="226" cy="2928.4"/></g>
<g id="n678_145"><circle cx="226" cy="2948.7"/></g><g id="n678_146"><circle cx="226" cy="2969"/></g><g id="n678_147"><circle cx="226" cy="2989.2"/></g><g id="n678_148"><circle cx="226" cy="3009.5"/></g>
<g id="n778_145"><circle cx="259.3" cy="2948.7"/></g><g id="n778_146"><circle cx="259.3" cy="2969"/></g><g id="n778_147"><circle cx="259.3" cy="2989.2"/></g><g id="n778_148"><circle cx="259.3" cy="3009.5"/></g>
<g id="n878_147"><circle cx="292.7" cy="2989.2"/></g><g id="n878_148"><circle cx="292.7" cy="3009.5"/></g><g id="n878_149"><circle cx="292.7" cy="3029.8"/></g><g id="n878_150"><circle cx="292.7" cy="3050.1"/></g>
<g id="n606_125"><circle cx="202" cy="2543.4"/></g><g id="n606_126"><circle cx="202" cy="2563.6"/></g><g id="n606_127"><circle cx="202" cy="2583.9"/></g><g id="n606_128"><circle cx="202" cy="2604.2"/></g>
<g id="n806_121"><circle cx="268.7" cy="2462.3"/></g><g id="n806_122"><circle cx="268.7" cy="2482.6"/></g><g id="n806_123"><circle cx="268.7" cy="2502.8"/></g><g id="n806_124"><circle cx="268.7" cy="2523.1"/></g><g id="n806_125"><circle cx="268.7" cy="2543.4"/></g><g id="n806_126"><circle cx="268.7" cy="2563.6"/></g>
<g id="n790_127"><circle cx="263.3" cy="2583.9"/></g><g id="n742_128"><circle cx="247.3" cy="2604.2"/></g><g id="n718_129"><circle cx="239.3" cy="2624.4"/></g><g id="n718_130"><circle cx="239.3" cy="2644.7"/></g>
<g id="n906_123"><circle cx="302" cy="2502.8"/></g><g id="n906_124"><circle cx="302" cy="2523.1"/></g><g id="n906_125"><circle cx="302" cy="2543.4"/></g><g id="n906_126"><circle cx="302" cy="2563.6"/></g><g id="n906_127"><circle cx="302" cy="2583.9"/></g><g id="n906_128"><circle cx="302" cy="2604.2"/></g>
<g id="n1030_127"><circle cx="343.3" cy="2583.9"/></g><g id="n1030_128"><circle cx="343.3" cy="2604.2"/></g><g id="n1030_129"><circle cx="343.3" cy="2624.4"/></g><g id="n1030_130"><circle cx="343.3" cy="2644.7"/></g><g id="n1030_131"><circle cx="343.3" cy="2665"/></g><g id="n1030_132"><circle cx="343.3" cy="2685.2"/></g>
<g id="n1042_133"><circle cx="347.3" cy="2705.5"/></g><g id="n1054_134"><circle cx="351.3" cy="2725.8"/></g><g id="n1078_135"><circle cx="359.3" cy="2746"/></g><g id="n1078_136"><circle cx="359.3" cy="2766.3"/></g>
<g id="n1130_129"><circle cx="376.7" cy="2624.4"/></g><g id="n1130_130"><circle cx="376.7" cy="2644.7"/></g><g id="n1130_131"><circle cx="376.7" cy="2665"/></g><g id="n1130_132"><circle cx="376.7" cy="2685.2"/></g>
<g id="n818_129"><circle cx="272.7" cy="2624.4"/></g><g id="n818_130"><circle cx="272.7" cy="2644.7"/></g><g id="n730_131"><circle cx="243.3" cy="2665"/></g><g id="n730_132"><circle cx="243.3" cy="2685.2"/></g>
<g id="n918_129"><circle cx="306" cy="2624.4"/></g><g id="n918_130"><circle cx="306" cy="2644.7"/></g>
<g id="n830_131"><circle cx="276.7" cy="2665"/></g><g id="n830_132"><circle cx="276.7" cy="2685.2"/></g>
<g id="n930_131"><circle cx="310" cy="2665"/></g><g id="n930_132"><circle cx="310" cy="2685.2"/></g><g id="n930_133"><circle cx="310" cy="2705.5"/></g><g id="n930_134"><circle cx="310" cy="2725.8"/></g>
<g id="n806_133"><circle cx="268.7" cy="2705.5"/></g><g id="n794_134"><circle cx="264.7" cy="2725.8"/></g>
<g id="n778_135"><circle cx="259.3" cy="2746"/></g><g id="n778_136"><circle cx="259.3" cy="2766.3"/></g><g id="n778_137"><circle cx="259.3" cy="2786.6"/></g><g id="n778_138"><circle cx="259.3" cy="2806.8"/></g><g id="n778_139"><circle cx="259.3" cy="2827.1"/></g><g id="n778_140"><circle cx="259.3" cy="2847.4"/></g><g id="n778_141"><circle cx="259.3" cy="2867.6"/></g><g id="n778_142"><circle cx="259.3" cy="2887.9"/></g>
<g id="n878_135"><circle cx="292.7" cy="2746"/></g><g id="n878_136"><circle cx="292.7" cy="2766.3"/></g>
<g id="n978_135"><circle cx="326" cy="2746"/></g><g id="n978_136"><circle cx="326" cy="2766.3"/></g><g id="n978_137"><circle cx="326" cy="2786.6"/></g><g id="n978_138"><circle cx="326" cy="2806.8"/></g><g id="n978_139"><circle cx="326" cy="2827.1"/></g><g id="n978_140"><circle cx="326" cy="2847.4"/></g><g id="n978_141"><circle cx="326" cy="2867.6"/></g><g id="n978_142"><circle cx="326" cy="2887.9"/></g>
<g id="n1078_79"><circle cx="359.3" cy="1611.1"/></g><g id="n1078_80"><circle cx="359.3" cy="1631.4"/></g><g id="n1078_81"><circle cx="359.3" cy="1651.6"/></g><g id="n1078_82"><circle cx="359.3" cy="1671.9"/></g><g id="n1078_83"><circle cx="359.3" cy="1692.2"/></g><g id="n1078_84"><circle cx="359.3" cy="1712.4"/></g><g id="n1078_85"><circle cx="359.3" cy="1732.7"/></g><g id="n1078_86"><circle cx="359.3" cy="1753"/></g><g id="n1078_87"><circle cx="359.3" cy="1773.2"/></g><g id="n1078_88"><circle cx="359.3" cy="1793.5"/></g><g id="n1078_89"><circle cx="359.3" cy="1813.8"/></g><g id="n1078_90"><circle cx="359.3" cy="1834"/></g><g id="n1078_91"><circle cx="359.3" cy="1854.3"/></g><g id="n1078_92"><circle cx="359.3" cy="1874.6"/></g><g id="n1078_93"><circle cx="359.3" cy="1894.8"/></g><g id="n1078_94"><circle cx="359.3" cy="1915.1"/></g>
<g id="n978_89"><circle cx="326" cy="1813.8"/></g><g id="n978_90"><circle cx="326" cy="1834"/></g><g id="n978_93"><circle cx="326" cy="1894.8"/></g><g id="n978_94"><circle cx="326" cy="1915.1"/></g>
<g id="n1178_83"><circle cx="392.7" cy="1692.2"/></g><g id="n1178_84"><circle cx="392.7" cy="1712.4"/></g><g id="n1178_85"><circle cx="392.7" cy="1732.7"/></g><g id="n1178_86"><circle cx="392.7" cy="1753"/></g><g id="n1178_87"><circle cx="392.7" cy="1773.2"/></g><g id="n1178_88"><circle cx="392.7" cy="1793.5"/></g><g id="n1178_89"><circle cx="392.7" cy="1813.8"/></g><g id="n1178_90"><circle cx="392.7" cy="1834"/></g><g id="n1178_91"><circle cx="392.7" cy="1854.3"/></g><g id="n1178_92"><circle cx="392.7" cy="1874.6"/></g><g id="n1178_93"><circle cx="392.7" cy="1894.8"/></g><g id="n1178_94"><circle cx="392.7" cy="1915.1"/></g><g id="n1178_95"><circle cx="392.7" cy="1935.4"/></g><g id="n1178_96"><circle cx="392.7" cy="1955.6"/></g><g id="n1178_97"><circle cx="392.7" cy="1975.9"/></g><g id="n1178_98"><circle cx="392.7" cy="1996.2"/></g>
<g id="n1278_91"><circle cx="426" cy="1854.3"/></g><g id="n1278_92"><circle cx="426" cy="1874.6"/></g>
<g id="n1130_99"><circle cx="376.7" cy="2016.4"/></g><g id="n1130_100"><circle cx="376.7" cy="2036.7"/></g>
<g id="n1230_99"><circle cx="410" cy="2016.4"/></g><g id="n1230_100"><circle cx="410" cy="2036.7"/></g>
<g id="n1306_101"><circle cx="435.3" cy="2057"/></g><g id="n1306_102"><circle cx="435.3" cy="2077.2"/></g>
<g id="n1206_101"><circle cx="402" cy="2057"/></g><g id="n1206_102"><circle cx="402" cy="2077.2"/></g><g id="n1206_103"><circle cx="402" cy="2097.5"/></g><g id="n1206_104"><circle cx="402" cy="2117.8"/></g><g id="n1206_105"><circle cx="402" cy="2138"/></g><g id="n1206_106"><circle cx="402" cy="2158.3"/></g><g id="n1206_107"><circle cx="402" cy="2178.6"/></g><g id="n1206_108"><circle cx="402" cy="2198.8"/></g><g id="n1206_109"><circle cx="402" cy="2219.1"/></g><g id="n1206_110"><circle cx="402" cy="2239.4"/></g>
<g id="n1106_107"><circle cx="368.7" cy="2178.6"/></g><g id="n1106_108"><circle cx="368.7" cy="2198.8"/></g>
<g id="n1306_107"><circle cx="435.3" cy="2178.6"/></g><g id="n1306_108"><circle cx="435.3" cy="2198.8"/></g><g id="n1306_109"><circle cx="435.3" cy="2219.1"/></g><g id="n1306_110"><circle cx="435.3" cy="2239.4"/></g>
<g id="n1106_109"><circle cx="368.7" cy="2219.1"/></g><g id="n1106_110"><circle cx="368.7" cy="2239.4"/></g><g id="n1106_111"><circle cx="368.7" cy="2259.6"/></g><g id="n1106_112"><circle cx="368.7" cy="2279.9"/></g><g id="n1106_113"><circle cx="368.7" cy="2300.2"/></g><g id="n1106_114"><circle cx="368.7" cy="2320.4"/></g>
<g id="n1406_109"><circle cx="468.7" cy="2219.1"/></g><g id="n1406_110"><circle cx="468.7" cy="2239.4"/></g>
<g id="n1354_111"><circle cx="451.3" cy="2259.6"/></g><g id="n1354_112"><circle cx="451.3" cy="2279.9"/></g>
<g id="n1454_111"><circle cx="484.7" cy="2259.6"/></g><g id="n1454_112"><circle cx="484.7" cy="2279.9"/></g><g id="n1454_113"><circle cx="484.7" cy="2300.2"/></g><g id="n1454_114"><circle cx="484.7" cy="2320.4"/></g>
<g id="n1006_113"><circle cx="335.3" cy="2300.2"/></g><g id="n1006_114"><circle cx="335.3" cy="2320.4"/></g><g id="n1006_115"><circle cx="335.3" cy="2340.7"/></g><g id="n1006_116"><circle cx="335.3" cy="2361"/></g>
<g id="n974_117"><circle cx="324.7" cy="2381.2"/></g><g id="n974_118"><circle cx="324.7" cy="2401.5"/></g><g id="n974_119"><circle cx="324.7" cy="2421.8"/></g><g id="n974_120"><circle cx="324.7" cy="2442"/></g>
<g id="n874_119"><circle cx="291.3" cy="2421.8"/></g><g id="n874_120"><circle cx="291.3" cy="2442"/></g>
<g id="n1074_117"><circle cx="358" cy="2381.2"/></g><g id="n1074_118"><circle cx="358" cy="2401.5"/></g><g id="n1074_119"><circle cx="358" cy="2421.8"/></g><g id="n1074_120"><circle cx="358" cy="2442"/></g><g id="n1074_121"><circle cx="358" cy="2462.3"/></g><g id="n1074_122"><circle cx="358" cy="2482.6"/></g><g id="n1074_123"><circle cx="358" cy="2502.8"/></g><g id="n1074_124"><circle cx="358" cy="2523.1"/></g>
<g id="n1174_119"><circle cx="391.3" cy="2421.8"/></g><g id="n1174_120"><circle cx="391.3" cy="2442"/></g>
<g id="n430_159"><circle cx="143.3" cy="3232.5"/></g><g id="n430_160"><circle cx="143.3" cy="3252.7"/></g><g id="n430_161"><circle cx="143.3" cy="3273"/></g><g id="n430_162"><circle cx="143.3" cy="3293.3"/></g><g id="n430_163"><circle cx="143.3" cy="3313.5"/></g><g id="n430_164"><circle cx="143.3" cy="3333.8"/></g><g id="n430_165"><circle cx="143.3" cy="3354.1"/></g><g id="n430_166"><circle cx="143.3" cy="3374.3"/></g>
<g id="n330_163"><circle cx="110" cy="3313.5"/></g><g id="n330_164"><circle cx="110" cy="3333.8"/></g>
<g id="n530_159"><circle cx="176.7" cy="3232.5"/></g><g id="n530_160"><circle cx="176.7" cy="3252.7"/></g><g id="n530_161"><circle cx="176.7" cy="3273"/></g><g id="n530_162"><circle cx="176.7" cy="3293.3"/></g><g id="n530_163"><circle cx="176.7" cy="3313.5"/></g><g id="n530_164"><circle cx="176.7" cy="3333.8"/></g><g id="n530_165"><circle cx="176.7" cy="3354.1"/></g><g id="n530_166"><circle cx="176.7" cy="3374.3"/></g>
<g id="n478_167"><circle cx="159.3" cy="3394.6"/></g><g id="n478_168"><circle cx="159.3" cy="3414.9"/></g><g id="n478_169"><circle cx="159.3" cy="3435.1"/></g><g id="n478_170"><circle cx="159.3" cy="3455.4"/></g><g id="n478_171"><circle cx="159.3" cy="3475.7"/></g><g id="n478_172"><circle cx="159.3" cy="3495.9"/></g>
<g id="n378_171"><circle cx="126" cy="3475.7"/></g><g id="n378_172"><circle cx="126" cy="3495.9"/></g><g id="n378_173"><circle cx="126" cy="3516.2"/></g><g id="n378_174"><circle cx="126" cy="3536.5"/></g><g id="n378_175"><circle cx="126" cy="3556.7"/></g><g id="n378_176"><circle cx="126" cy="3577"/></g>
<g id="n278_173"><circle cx="92.7" cy="3516.2"/></g><g id="n278_174"><circle cx="92.7" cy="3536.5"/></g><g id="n278_175"><circle cx="92.7" cy="3556.7"/></g><g id="n278_176"><circle cx="92.7" cy="3577"/></g>
<g id="n478_175"><circle cx="159.3" cy="3556.7"/></g><g id="n478_176"><circle cx="159.3" cy="3577"/></g>
<g id="n578_167"><circle cx="192.7" cy="3394.6"/></g><g id="n578_168"><circle cx="192.7" cy="3414.9"/></g><g id="n578_169"><circle cx="192.7" cy="3435.1"/></g><g id="n578_170"><circle cx="192.7" cy="3455.4"/></g><g id="n578_171"><circle cx="192.7" cy="3475.7"/></g><g id="n578_172"><circle cx="192.7" cy="3495.9"/></g><g id="n578_173"><circle cx="192.7" cy="3516.2"/></g><g id="n578_174"><circle cx="192.7" cy="3536.5"/></g><g id="n578_175"><circle cx="192.7" cy="3556.7"/></g><g id="n578_176"><circle cx="192.7" cy="3577"/></g><g id="n578_177"><circle cx="192.7" cy="3597.3"/></g><g id="n578_178"><circle cx="192.7" cy="3617.5"/></g><g id="n578_179"><circle cx="192.7" cy="3637.8"/></g><g id="n578_180"><circle cx="192.7" cy="3658.1"/></g><g id="n578_181"><circle cx="192.7" cy="3678.3"/></g><g id="n578_182"><circle cx="192.7" cy="3698.6"/></g><g id="n578_183"><circle cx="192.7" cy="3718.9"/></g><g id="n578_184"><circle cx="192.7" cy="3739.1"/></g><g id="n578_185"><circle cx="192.7" cy="3759.4"/></g><g id="n578_186"><circle cx="192.7" cy="3779.7"/></g>
<g id="n678_169"><circle cx="226" cy="3435.1"/></g><g id="n678_170"><circle cx="226" cy="3455.4"/></g><g id="n678_171"><circle cx="226" cy="3475.7"/></g><g id="n678_172"><circle cx="226" cy="3495.9"/></g>
<g id="n778_171"><circle cx="259.3" cy="3475.7"/></g><g id="n778_172"><circle cx="259.3" cy="3495.9"/></g><g id="n778_173"><circle cx="259.3" cy="3516.2"/></g><g id="n778_174"><circle cx="259.3" cy="3536.5"/></g><g id="n778_175"><circle cx="259.3" cy="3556.7"/></g><g id="n778_176"><circle cx="259.3" cy="3577"/></g><g id="n778_177"><circle cx="259.3" cy="3597.3"/></g><g id="n778_178"><circle cx="259.3" cy="3617.5"/></g><g id="n778_179"><circle cx="259.3" cy="3637.8"/></g><g id="n778_180"><circle cx="259.3" cy="3658.1"/></g><g id="n778_181"><circle cx="259.3" cy="3678.3"/></g><g id="n778_182"><circle cx="259.3" cy="3698.6"/></g>
<g id="n678_175"><circle cx="226" cy="3556.7"/></g><g id="n678_176"><circle cx="226" cy="3577"/></g><g id="n678_177"><circle cx="226" cy="3597.3"/></g><g id="n678_178"><circle cx="226" cy="3617.5"/></g><g id="n678_179"><circle cx="226" cy="3637.8"/></g><g id="n678_180"><circle cx="226" cy="3658.1"/></g><g id="n678_181"><circle cx="226" cy="3678.3"/></g><g id="n678_182"><circle cx="226" cy="3698.6"/></g><g id="n678_183"><circle cx="226" cy="3718.9"/></g><g id="n678_184"><circle cx="226" cy="3739.1"/></g><g id="n678_185"><circle cx="226" cy="3759.4"/></g><g id="n678_186"><circle cx="226" cy="3779.7"/></g><g id="n678_187"><circle cx="226" cy="3799.9"/></g><g id="n678_188"><circle cx="226" cy="3820.2"/></g><g id="n678_189"><circle cx="226" cy="3840.5"/></g><g id="n678_190"><circle cx="226" cy="3860.7"/></g>
<g id="n478_181"><circle cx="159.3" cy="3678.3"/></g><g id="n478_182"><circle cx="159.3" cy="3698.6"/></g><g id="n478_183"><circle cx="159.3" cy="3718.9"/></g><g id="n478_184"><circle cx="159.3" cy="3739.1"/></g>
<g id="n378_183"><circle cx="126" cy="3718.9"/></g><g id="n378_184"><circle cx="126" cy="3739.1"/></g><g id="n378_185"><circle cx="126" cy="3759.4"/></g><g id="n378_186"><circle cx="126" cy="3779.7"/></g>
<g id="n478_185"><circle cx="159.3" cy="3759.4"/></g><g id="n478_186"><circle cx="159.3" cy="3779.7"/></g>
</g>
</svg>
